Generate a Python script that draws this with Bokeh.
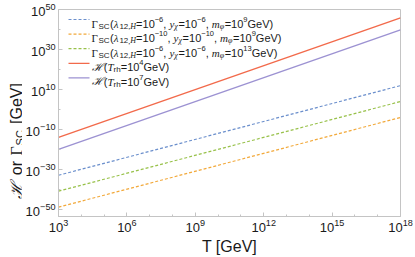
from bokeh.plotting import figure
from bokeh.layouts import row
from bokeh.models import Label, Arrow, FixedTicker, LogTickFormatter
from bokeh.embed import file_html
from bokeh.resources import INLINE

# ---------------- data ----------------
T = [1e3, 1e18]
gamma_sc_1 = [1e-33, 1e12]   # lambda=1e-6, y=1e-6, m=1e9 GeV
gamma_sc_2 = [1e-49, 1e-4]   # lambda=1e-10, y=1e-10, m=1e9 GeV
gamma_sc_3 = [1e-41, 1e4]    # lambda=1e-6, y=1e-6, m=1e13 GeV
hubble_1 = [1e-14, 1e46]     # T_rh = 1e4 GeV
hubble_2 = [1e-20, 1e40]     # T_rh = 1e7 GeV

x_ticks = [1e3, 1e6, 1e9, 1e12, 1e15, 1e18]
x_minor = [1e4, 1e5, 1e7, 1e8, 1e10, 1e11, 1e13, 1e14, 1e16, 1e17]
y_ticks = [1e-50, 1e-30, 1e-10, 1e10, 1e30, 1e50]
y_minor = [1e-40, 1e-20, 1e0, 1e20, 1e40]

C_BLUE = "#6b8fcc"
C_ORANGE = "#f2a93b"
C_GREEN = "#98c14a"
C_RED = "#f26a4b"
C_PURPLE = "#9c92d2"

SANS = "Liberation Sans"
SERIF = "Liberation Serif"
SCRIPT = "DejaVu Serif"
FRAME = "#c4c4c4"
TXT = "#1a1a1a"

TOTAL_W, H = 415, 257
LEFT_W = 22
B_LEFT, B_RIGHT, B_TOP, B_BOTTOM = 36, 15, 9, 39

p = figure(width=TOTAL_W - LEFT_W, height=H, x_axis_type="log",
           y_axis_type="log", x_range=(1e3, 1e18),
           y_range=(10**-53.7, 10**50.2),
           output_backend="svg", toolbar_location=None,
           min_border_left=B_LEFT, min_border_right=B_RIGHT,
           min_border_top=B_TOP, min_border_bottom=B_BOTTOM)
p.grid.visible = False
p.outline_line_color = FRAME
p.outline_line_width = 1
p.background_fill_color = "white"

p.xaxis.ticker = FixedTicker(ticks=x_ticks, minor_ticks=x_minor)
p.yaxis.ticker = FixedTicker(ticks=y_ticks, minor_ticks=y_minor)
p.xaxis.formatter = LogTickFormatter()
p.yaxis.formatter = LogTickFormatter()
for ax in (p.xaxis, p.yaxis):
    ax.axis_line_color = FRAME
    ax.major_tick_line_color = FRAME
    ax.minor_tick_line_color = FRAME
    ax.major_tick_in = 4
    ax.major_tick_out = 0
    ax.minor_tick_in = 2
    ax.minor_tick_out = 0
    ax.major_label_text_font = SANS
    ax.major_label_text_font_size = "13px"
    ax.major_label_text_color = TXT
p.xaxis.major_label_standoff = 2
p.yaxis.major_label_standoff = 3
p.xaxis.axis_label = "T [GeV]"
p.xaxis.axis_label_text_font = SANS
p.xaxis.axis_label_text_font_size = "16px"
p.xaxis.axis_label_text_font_style = "normal"
p.xaxis.axis_label_text_color = TXT
p.xaxis.axis_label_standoff = 3
p.yaxis.axis_label = None

DASH = "3 2"
p.line(T, gamma_sc_1, line_color=C_BLUE, line_width=1.2, line_dash=DASH)
p.line(T, gamma_sc_2, line_color=C_ORANGE, line_width=1.2, line_dash=DASH)
p.line(T, gamma_sc_3, line_color=C_GREEN, line_width=1.2, line_dash=DASH)
p.line(T, hubble_1, line_color=C_RED, line_width=1.4)
p.line(T, hubble_2, line_color=C_PURPLE, line_width=1.4)

# narrow figure on the left that only carries the y axis title
q = figure(width=LEFT_W, height=H, x_range=(0, LEFT_W), y_range=(0, H),
           output_backend="svg", toolbar_location=None,
           x_axis_location=None, y_axis_location=None,
           min_border_left=0, min_border_right=0, min_border_top=0,
           min_border_bottom=0)
q.grid.visible = False
q.outline_line_color = None

# ---------------- rich text helper ----------------
W = {
    SANS: {"0": .556, "1": .556, "2": .556, "3": .556, "4": .556, "5": .556,
           "6": .556, "7": .556, "8": .556, "9": .556, "=": .584, "(": .333,
           ")": .333, ",": .278, " ": .278, "G": .778, "e": .556, "V": .667,
           "S": .7, "C": .75, "r": .333, "h": .556, "\u2212": .584,
           "[": .278, "]": .278, "o": .556, "T": .611},
    SERIF: {"\u03bb": .52, "y": .444, "\u03c7": .52, "m": .722, "\u03c6": .62,
            "T": .556, "H": .722, ",": .25, "\u0393": .63, " ": .25},
    SCRIPT: {"\u210b": 1.12},
}


def width(text, font, size):
    return sum(W[font].get(ch, 0.55) for ch in text) * size


def rich(fig, x, y, segs, angle=0.0, space=0.278):
    for text, font, style, size, shift in segs:
        lead = len(text) - len(text.lstrip(" "))
        adv0 = lead * space * size
        if angle == 0:
            x += adv0
        else:
            y += adv0
        body = text.strip(" ")
        if angle == 0:
            lx, ly = x, y + shift
        else:
            lx, ly = x - shift, y
        fig.add_layout(Label(x=lx, y=ly, x_units="screen", y_units="screen",
                             text=body, text_font=font, text_font_style=style,
                             text_font_size=f"{size}px", text_color=TXT,
                             text_baseline="alphabetic", text_align="left",
                             angle=angle))
        adv = width(body, font, size)
        if angle == 0:
            x += adv
        else:
            y += adv


N, S, P = 11, 8, 7.5   # normal, subscript, superscript sizes
SUB, SUP = -2.5, 4.5


def gamma_label(lam, yx, mphi):
    return [("\u0393", SERIF, "normal", N, 0), ("SC", SANS, "normal", S, SUB),
            ("(", SANS, "normal", N, 0), ("\u03bb", SERIF, "italic", N, 0),
            ("12", SANS, "normal", S, SUB), (",", SERIF, "normal", S, SUB),
            ("H", SERIF, "italic", S, SUB),
            ("=10", SANS, "normal", N, 0), (lam, SANS, "normal", P, SUP),
            (",", SANS, "normal", N, 0), (" y", SERIF, "italic", N, 0),
            ("\u03c7", SERIF, "italic", S, SUB),
            ("=10", SANS, "normal", N, 0), (yx, SANS, "normal", P, SUP),
            (",", SANS, "normal", N, 0), (" m", SERIF, "italic", N, 0),
            ("\u03c6", SERIF, "italic", S, SUB),
            ("=10", SANS, "normal", N, 0), (mphi, SANS, "normal", P, SUP),
            ("GeV)", SANS, "normal", N, 0)]


def hubble_label(trh):
    return [("\u210b", SCRIPT, "italic", N, 0), ("(", SANS, "normal", N, 0),
            ("T", SERIF, "italic", N, 0), ("rh", SANS, "normal", S, SUB),
            ("=10", SANS, "normal", N, 0), (trh, SANS, "normal", P, SUP),
            ("GeV)", SANS, "normal", N, 0)]


legend_rows = [
    (C_BLUE, DASH, gamma_label("\u22126", "\u22126", "9")),
    (C_ORANGE, DASH, gamma_label("\u221210", "\u221210", "9")),
    (C_GREEN, DASH, gamma_label("\u22126", "\u22126", "13")),
    (C_RED, "solid", hubble_label("4")),
    (C_PURPLE, "solid", hubble_label("7")),
]
frame_h = H - B_TOP - B_BOTTOM
row_y = frame_h - 12
for color, dash, segs in legend_rows:
    p.add_layout(Arrow(start=None, end=None, x_start=10, y_start=row_y,
                       x_end=31, y_end=row_y, start_units="screen",
                       end_units="screen", line_color=color, line_width=1.2,
                       line_dash=dash))
    rich(p, 33, row_y - 4, segs)
    row_y -= 14.6

# y axis title (rotated, reads bottom to top); q's frame lines up with p's
YL = 16
rich(q, 15.5, 18, [("\u210b", SCRIPT, "italic", YL, 0),
                   (" or", SANS, "normal", YL, 0),
                   (" \u0393", SERIF, "normal", YL, 0),
                   ("SC", SANS, "normal", 11, -3.5),
                   (" [GeV]", SANS, "normal", YL, 0)], angle=1.5707963,
     space=0.34)

layout = row(q, p, spacing=0)
open("out.html", "w").write(file_html(layout, INLINE))
